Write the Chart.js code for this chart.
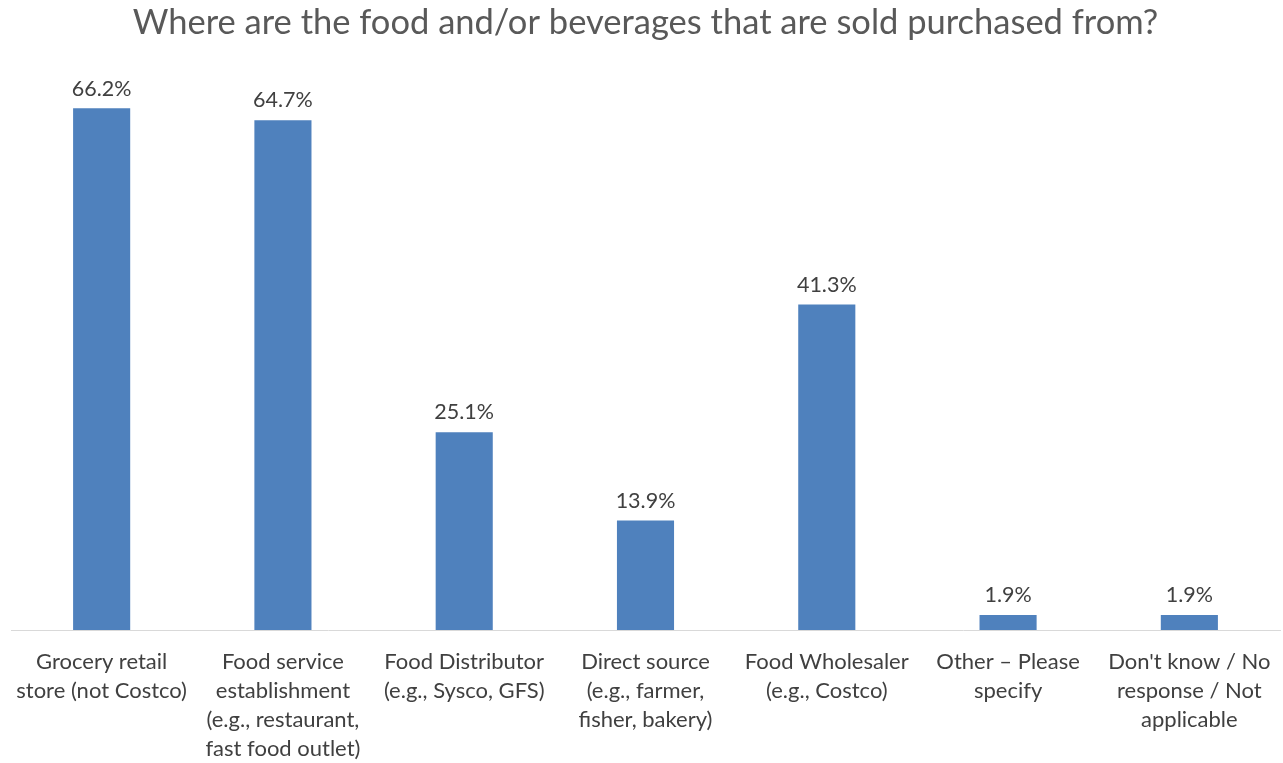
<!DOCTYPE html>
<html>
<head>
<meta charset="utf-8">
<script src="https://cdn.jsdelivr.net/npm/chart.js@4.4.1/dist/chart.umd.min.js"></script>
<style>
  html, body { margin: 0; padding: 0; background: #fff; }
  #wrap { width: 1283px; height: 763px; }
</style>
</head>
<body>
<div id="wrap"><canvas id="chart"></canvas></div>
<script>
const categories = [
  ['Grocery retail', 'store (not Costco)'],
  ['Food service', 'establishment', '(e.g., restaurant,', 'fast food outlet)'],
  ['Food Distributor', '(e.g., Sysco, GFS)'],
  ['Direct source', '(e.g., farmer,', 'fisher, bakery)'],
  ['Food Wholesaler', '(e.g., Costco)'],
  ['Other \u2013 Please', 'specify'],
  ["Don't know / No", 'response / Not', 'applicable']
];
const percentages = [66.2, 64.7, 25.1, 13.9, 41.3, 1.9, 1.9];
const chartTitle = 'Where are the food and/or beverages that are sold purchased from?';

// draw the value above each bar
const valueLabels = {
  id: 'valueLabels',
  afterDatasetsDraw(chart) {
    const ctx = chart.ctx;
    const meta = chart.getDatasetMeta(0);
    ctx.save();
    ctx.font = '21.5px Lato, "Open Sans", sans-serif';
    ctx.fillStyle = '#404040';
    ctx.textAlign = 'center';
    ctx.textBaseline = 'bottom';
    meta.data.forEach((bar, i) => {
      ctx.fillText(percentages[i].toFixed(1) + '%', bar.x, bar.y - 9);
    });
    ctx.restore();
  }
};

new Chart(document.getElementById('chart').getContext('2d'), {
  type: 'bar',
  data: {
    labels: categories,
    datasets: [{
      data: percentages,
      backgroundColor: '#4F81BD',
      barPercentage: 0.315,
      categoryPercentage: 1
    }]
  },
  options: {
    responsive: true,
    maintainAspectRatio: false,
    animation: false,
    layout: { padding: { left: 11, right: 3, top: 0, bottom: 0 } },
    plugins: {
      legend: { display: false },
      tooltip: { enabled: false },
      title: {
        display: true,
        text: chartTitle,
        color: '#595959',
        font: { family: 'Lato, "Open Sans", sans-serif', size: 34.5, weight: 'normal', lineHeight: 1.2 },
        padding: { top: 2, bottom: 35 }
      }
    },
    scales: {
      y: {
        display: false,
        min: 0,
        max: 70
      },
      x: {
        grid: { display: false, drawTicks: false },
        border: { display: true, color: '#d9d9d9', width: 1 },
        ticks: {
          color: '#404040',
          font: { family: 'Lato, "Open Sans", sans-serif', size: 22, lineHeight: 1.32 },
          padding: 17,
          maxRotation: 0,
          autoSkip: false
        },
        afterFit(scale) {
          scale.height = 133;
          scale.paddingLeft = 0;
          scale.paddingRight = 0;
        }
      }
    }
  },
  plugins: [valueLabels]
});
</script>
</body>
</html>
